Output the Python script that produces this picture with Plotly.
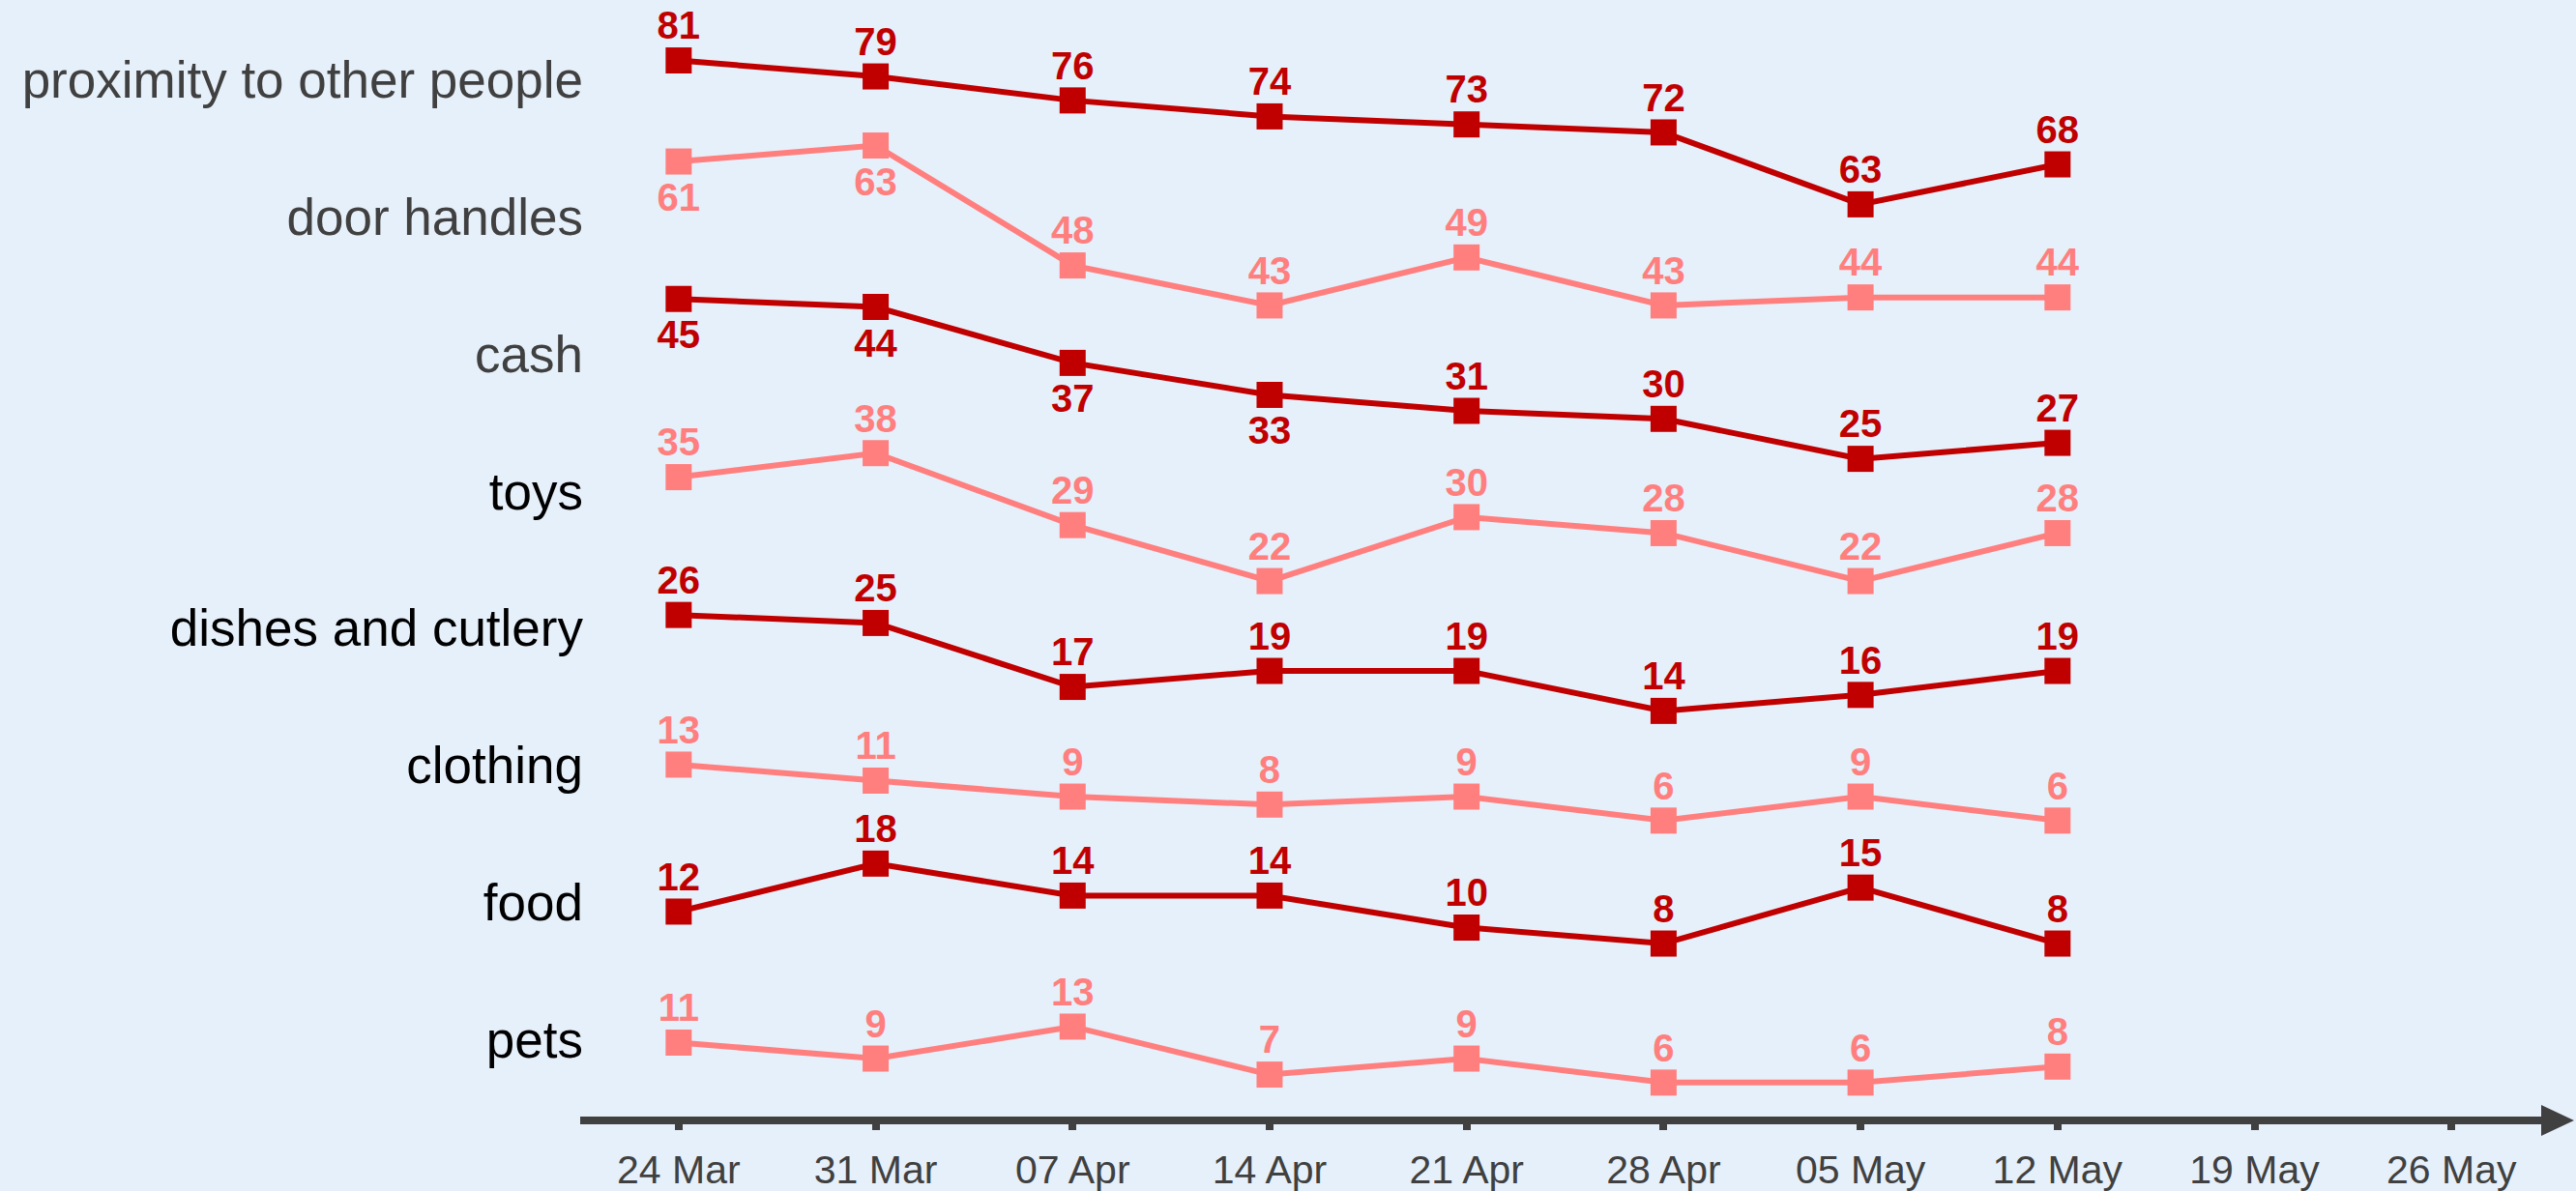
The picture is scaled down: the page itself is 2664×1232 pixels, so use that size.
import plotly.graph_objects as go

# ---------------- data ----------------
dates = ["2020-03-24", "2020-03-31", "2020-04-07", "2020-04-14",
         "2020-04-21", "2020-04-28", "2020-05-05", "2020-05-12"]
categories = ["proximity to other people", "door handles", "cash", "toys",
              "dishes and cutlery", "clothing", "food", "pets"]
proximity = [81, 79, 76, 74, 73, 72, 63, 68]
door_handles = [61, 63, 48, 43, 49, 43, 44, 44]
cash = [45, 44, 37, 33, 31, 30, 25, 27]
toys = [35, 38, 29, 22, 30, 28, 22, 28]
dishes = [26, 25, 17, 19, 19, 14, 16, 19]
clothing = [13, 11, 9, 8, 9, 6, 9, 6]
food = [12, 18, 14, 14, 10, 8, 15, 8]
pets = [11, 9, 13, 7, 9, 6, 6, 8]
tick_dates = ["2020-03-24", "2020-03-31", "2020-04-07", "2020-04-14", "2020-04-21",
              "2020-04-28", "2020-05-05", "2020-05-12", "2020-05-19", "2020-05-26"]
tick_labels = ["24 Mar", "31 Mar", "07 Apr", "14 Apr", "21 Apr",
               "28 Apr", "05 May", "12 May", "19 May", "26 May"]

series = [proximity, door_handles, cash, toys, dishes, clothing, food, pets]

# ---------------- layout / style ----------------
W, H = 2664, 1232
ML, MR, MT, MB = 600, 36, 0, 77
PLOT_W = W - ML - MR
PLOT_H = H - MT - MB
PX_PER_UNIT = 8.27
Y_MAX = PLOT_H / PX_PER_UNIT

# vertical offset of each row (in value units)
row_offset = [51.10, 58.46, 57.27, 44.98, 36.74, 31.02, 13.64, -1.75]
label_top, label_step = 129.65, 17.14
label_pos = [label_top - label_step * i for i in range(len(categories))]
label_colors = ["#404040", "#404040", "#404040", "#000000",
                "#000000", "#000000", "#000000", "#000000"]
# number of leading points whose labels sit below the marker
below_count = [0, 2, 4, 0, 0, 0, 0, 0]

DARK = "#C00000"
LIGHT = "#FF7F7F"
BG = "#E6F0FA"
AXIS = "#404040"
FONT = "Liberation Sans, Arial, sans-serif"
TOP_GAP, BOTTOM_GAP = 18, 32   # invisible marker sizes controlling label offsets

fig = go.Figure()
for i, (name, vals) in enumerate(zip(categories, series)):
    col = DARK if i % 2 == 0 else LIGHT
    ys = [v + row_offset[i] for v in vals]
    fig.add_trace(go.Scatter(
        x=dates, y=ys, mode="lines+markers", name=name,
        line=dict(color=col, width=6),
        marker=dict(symbol="square", size=27, color=col),
        cliponaxis=False, showlegend=False, hoverinfo="skip",
    ))
    below = [k < below_count[i] for k in range(len(vals))]
    fig.add_trace(go.Scatter(
        x=dates, y=ys, mode="markers+text", name=name + " labels",
        marker=dict(symbol="square", opacity=0,
                    size=[BOTTOM_GAP if b else TOP_GAP for b in below]),
        text=[str(v) for v in vals],
        textposition=["bottom center" if b else "top center" for b in below],
        textfont=dict(family=FONT, size=40, color=col, weight="bold"),
        cliponaxis=False, showlegend=False, hoverinfo="skip",
    ))

# arrow head at the end of the x axis
line_y = -4 / PLOT_H
half = 16 / PLOT_H
tip = 1 + 34 / PLOT_W
fig.add_shape(type="path", xref="paper", yref="paper",
              path=f"M 1.0 {line_y + half} L {tip} {line_y} L 1.0 {line_y - half} Z",
              fillcolor=AXIS, line=dict(width=0))

fig.update_layout(
    width=W, height=H,
    margin=dict(l=ML, r=MR, t=MT, b=MB, autoexpand=False),
    paper_bgcolor=BG, plot_bgcolor=BG,
    font=dict(family=FONT, color=AXIS),
    xaxis=dict(
        type="date",
        range=["2020-03-20 12:00", "2020-05-29 04:30"],
        tickvals=tick_dates, ticktext=tick_labels,
        tickfont=dict(size=41, color=AXIS),
        showline=True, linecolor=AXIS, linewidth=8,
        ticks="outside", ticklen=6, tickwidth=8, tickcolor=AXIS,
        ticklabelstandoff=6,
        showgrid=False, zeroline=False, automargin=False,
    ),
    yaxis=dict(
        range=[0, Y_MAX],
        tickvals=label_pos,
        ticktext=[f'<span style="color:{c}">{t}</span>' for t, c in zip(categories, label_colors)],
        tickfont=dict(size=53, color="#000000"),
        ticklabelstandoff=-4,
        showline=False, ticks="", showgrid=False, zeroline=False,
        automargin=False,
    ),
)

fig.write_html("out.html", config={"displayModeBar": False},
               post_script="document.body.style.margin='0';document.body.style.background='%s';" % BG)
